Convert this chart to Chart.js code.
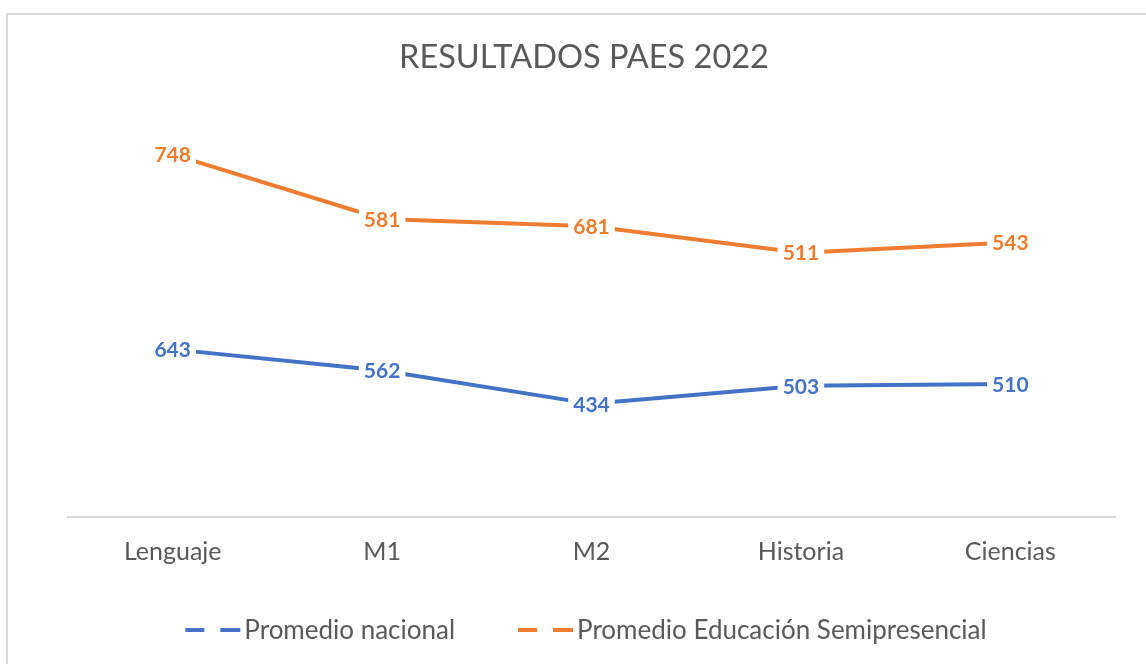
<!DOCTYPE html>
<html lang="es">
<head>
    <meta charset="UTF-8">
    <title>Resultados PAES 2022</title>
    <script src="https://cdn.jsdelivr.net/npm/chart.js"></script>
    <style>
        html, body { margin: 0; padding: 0; background: #ffffff; overflow: hidden; }
        .frame {
            position: absolute; left: 6px; top: 13px;
            width: 1200px; height: 700px;
            border: 2px solid #d9d9d9; box-sizing: border-box;
        }
        .chart-wrapper {
            position: absolute; left: 0; top: 0; width: 1146px; height: 664px;
        }
    </style>
</head>
<body>
    <div class="frame"></div>
    <div class="chart-wrapper">
        <canvas id="paesChart"></canvas>
    </div>

    <script>
        const categories = ['Lenguaje', 'M1', 'M2', 'Historia', 'Ciencias'];
        const promedioNacional = [643, 562, 434, 503, 510];
        const promedioSemipresencial = [748, 581, 681, 511, 543];
        const seriesNames = ['Promedio nacional', 'Promedio Educación Semipresencial'];
        const seriesColors = ['#4472C4', '#ED7D31'];
        const chartTitle = 'RESULTADOS PAES 2022';

        const FONT = 'Lato, "Open Sans", sans-serif';
        const GREY = '#595959';

        // title drawn by hand so it sits centred on the page, not on the plot
        const pageTitle = {
            id: 'pageTitle',
            afterDraw(chart) {
                const ctx = chart.ctx;
                ctx.save();
                ctx.font = '32.5px ' + FONT;
                ctx.fillStyle = GREY;
                ctx.textAlign = 'center';
                ctx.textBaseline = 'middle';
                ctx.fillText(chartTitle, 584, 58);
                ctx.restore();
            }
        };

        // numbers in white boxes on top of each point
        const dataLabels = {
            id: 'dataLabels',
            afterDatasetsDraw(chart) {
                const ctx = chart.ctx;
                ctx.save();
                ctx.font = 'bold 21px ' + FONT;
                ctx.textAlign = 'center';
                ctx.textBaseline = 'middle';
                chart.data.datasets.forEach((ds, i) => {
                    const meta = chart.getDatasetMeta(i);
                    meta.data.forEach((pt, j) => {
                        const txt = String(ds.data[j]);
                        const w = ctx.measureText(txt).width;
                        ctx.fillStyle = '#ffffff';
                        ctx.fillRect(pt.x - w / 2 - 5, pt.y - 12, w + 10, 24);
                        ctx.fillStyle = ds.borderColor;
                        ctx.fillText(txt, pt.x, pt.y + 1);
                    });
                });
                ctx.restore();
            }
        };

        // excel style legend: "– —Name"
        const bottomLegend = {
            id: 'bottomLegend',
            afterDraw(chart) {
                const ctx = chart.ctx;
                const y = 630;
                ctx.save();
                ctx.font = '26px ' + FONT;
                ctx.textBaseline = 'middle';
                const symW = 55, gapText = 4, gapItem = 63;
                const widths = seriesNames.map(n => symW + gapText + ctx.measureText(n).width);
                const total = widths.reduce((a, b) => a + b, 0) + gapItem * (widths.length - 1);
                let x = 586 - total / 2;
                seriesNames.forEach((name, i) => {
                    ctx.strokeStyle = seriesColors[i];
                    ctx.lineWidth = 4;
                    ctx.beginPath();
                    ctx.moveTo(x, y); ctx.lineTo(x + 19, y);
                    ctx.moveTo(x + 35, y); ctx.lineTo(x + symW, y);
                    ctx.stroke();
                    ctx.fillStyle = GREY;
                    ctx.fillText(name, x + symW + gapText, y + 1);
                    x += widths[i] + gapItem;
                });
                ctx.restore();
            }
        };

        new Chart(document.getElementById('paesChart'), {
            type: 'line',
            data: {
                labels: categories,
                datasets: [{
                    label: seriesNames[0],
                    data: promedioNacional,
                    borderColor: seriesColors[0],
                    backgroundColor: seriesColors[0],
                    borderWidth: 4,
                    pointRadius: 0,
                    tension: 0,
                    fill: false
                }, {
                    label: seriesNames[1],
                    data: promedioSemipresencial,
                    borderColor: seriesColors[1],
                    backgroundColor: seriesColors[1],
                    borderWidth: 4,
                    pointRadius: 0,
                    tension: 0,
                    fill: false
                }]
            },
            options: {
                responsive: true,
                maintainAspectRatio: false,
                animation: false,
                layout: { padding: { top: 103, left: 68, right: 31, bottom: 77 } },
                scales: {
                    y: {
                        stacked: true,
                        display: false,
                        min: 0,
                        max: 1588
                    },
                    x: {
                        offset: true,
                        grid: { display: false, drawTicks: false },
                        border: { display: true, color: '#d9d9d9', width: 2 },
                        ticks: {
                            color: GREY,
                            font: { family: FONT, size: 25 },
                            padding: 20
                        }
                    }
                },
                plugins: {
                    legend: { display: false },
                    tooltip: { enabled: false },
                    title: { display: false }
                }
            },
            plugins: [pageTitle, dataLabels, bottomLegend]
        });
    </script>
</body>
</html>
